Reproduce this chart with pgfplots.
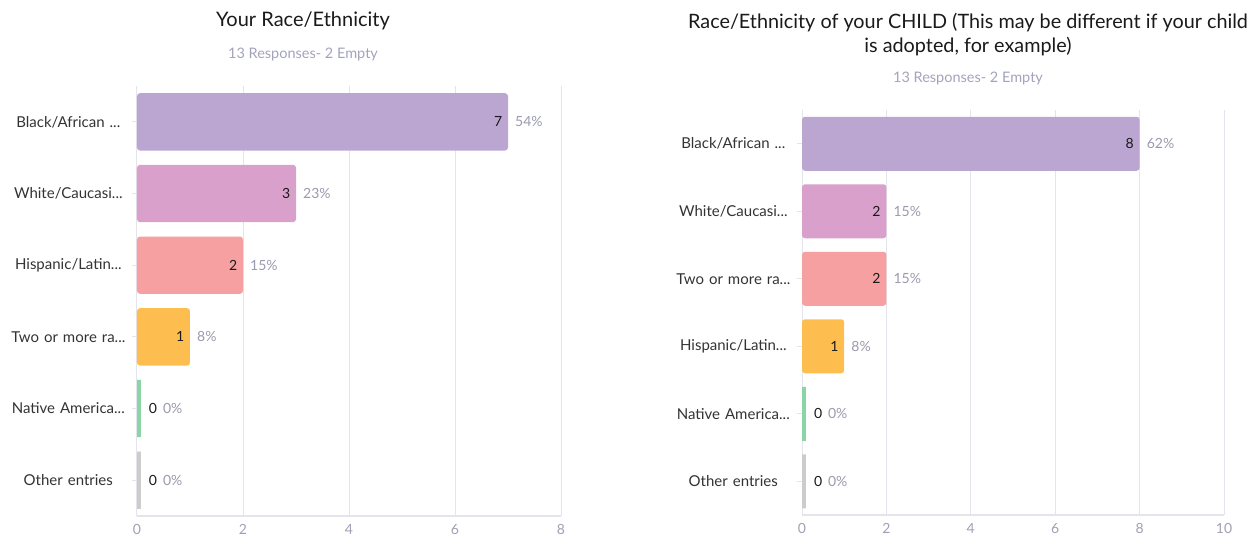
\documentclass[border=0pt]{standalone}
\usepackage{fontspec}
\setmainfont{Lato}
\usepackage{pgfplots}
\pgfplotsset{compat=1.18}
\definecolor{cPurple}{HTML}{BBA6D2}
\definecolor{cPink}{HTML}{D8A0CA}
\definecolor{cSalmon}{HTML}{F6A0A2}
\definecolor{cYellow}{HTML}{FEBE4F}
\definecolor{cGreen}{HTML}{8AD4A6}
\definecolor{cGrey}{HTML}{CCCCCC}
\definecolor{titlec}{HTML}{1A1A1A}
\definecolor{subc}{HTML}{A3A3BD}
\definecolor{tickc}{HTML}{A0A0B4}
\definecolor{labc}{HTML}{333333}
\definecolor{numc}{HTML}{1A1A1A}
\definecolor{pctc}{HTML}{9A9AAE}
\definecolor{gridc}{HTML}{E4E4EC}
\newcommand{\el}{...}
\newcommand{\inlab}[2]{\makebox[0pt][r]{\textcolor{numc}{#1}\hspace{6pt}}\hspace{7pt}\textcolor{pctc}{#2\%}}
\newcommand{\zlab}{\hspace{8pt}\textcolor{numc}{0}\hspace{6pt}\textcolor{pctc}{0\%}}
\pgfplotsset{rbar/.style={
  xbar, bar shift=0pt, bar width=0.8,
  scale only axis, xmin=0, ymin=-0.5, ymax=5.5,
  axis lines*=left,
  x axis line style={-,draw=gridc,line width=1.2pt},
  y axis line style={draw=none},
  xmajorgrids, grid style={draw=gridc, line width=1pt},
  ytick={0,...,5}, tick align=outside,
  xtick style={draw=none},
  ytick style={draw=gridc, line width=1pt},
  major tick length=5pt,
  yticklabel style={text width=124pt, align=center, inner sep=0pt,
    font=\fontsize{15}{18}\selectfont, text=labc, xshift=-1.5pt},
  xticklabel style={font=\fontsize{14}{17}\selectfont, text=tickc},
  /pgf/number format/assume math mode=true,
  nodes near coords, point meta=explicit symbolic,
  every node near coord/.append style={anchor=west, inner sep=0pt,
    font=\fontsize{14}{17}\selectfont},
  clip=false,
}}
\begin{document}
\begin{tikzpicture}[x=1pt,y=1pt]
\path[use as bounding box] (0pt,0pt) rectangle (1251pt,536pt);
\node[font=\fontsize{20}{24}\selectfont, text=titlec] at (303pt,515pt) {Your Race/Ethnicity};
\node[font=\fontsize{14.5}{17}\selectfont, text=subc] at (303pt,482pt) {13 Responses- 2 Empty};
\node[font=\fontsize{19.8}{24}\selectfont, text=titlec, align=center] at (968pt,501pt)
  {Race/Ethnicity of your CHILD (This may be different if your child\\is adopted, for example)};
\node[font=\fontsize{14.5}{17}\selectfont, text=subc] at (968pt,458pt) {13 Responses- 2 Empty};

\begin{axis}[rbar, at={(137pt,20pt)}, anchor=south west, width=424pt, height=430pt,
  xmax=8, xtick={0,2,4,6,8},
  yticklabels={Other entries, Native America\el, Two or more ra\el, Hispanic/Latin\el, White/Caucasi\el, Black/African \el}]
\addplot[fill=cPurple, draw=none, rounded corners=3pt] coordinates {(7,5) [\inlab{7}{54}]};
\addplot[fill=cPink, draw=none, rounded corners=3pt] coordinates {(3,4) [\inlab{3}{23}]};
\addplot[fill=cSalmon, draw=none, rounded corners=3pt] coordinates {(2,3) [\inlab{2}{15}]};
\addplot[fill=cYellow, draw=none, rounded corners=3pt] coordinates {(1,2) [\inlab{1}{8}]};
\addplot[fill=cGreen, draw=cGreen, line width=4pt, xshift=2pt] coordinates {(0,1) [\zlab]};
\addplot[fill=cGrey, draw=cGrey, line width=4pt, xshift=2pt] coordinates {(0,0) [\zlab]};
\end{axis}

\begin{axis}[rbar, at={(802pt,21pt)}, anchor=south west, width=422pt, height=405pt,
  xmax=10, xtick={0,2,4,6,8,10},
  yticklabels={Other entries, Native America\el, Hispanic/Latin\el, Two or more ra\el, White/Caucasi\el, Black/African \el}]
\addplot[fill=cPurple, draw=none, rounded corners=3pt] coordinates {(8,5) [\inlab{8}{62}]};
\addplot[fill=cPink, draw=none, rounded corners=3pt] coordinates {(2,4) [\inlab{2}{15}]};
\addplot[fill=cSalmon, draw=none, rounded corners=3pt] coordinates {(2,3) [\inlab{2}{15}]};
\addplot[fill=cYellow, draw=none, rounded corners=3pt] coordinates {(1,2) [\inlab{1}{8}]};
\addplot[fill=cGreen, draw=cGreen, line width=4pt, xshift=2pt] coordinates {(0,1) [\zlab]};
\addplot[fill=cGrey, draw=cGrey, line width=4pt, xshift=2pt] coordinates {(0,0) [\zlab]};
\end{axis}
\end{tikzpicture}
\end{document}
